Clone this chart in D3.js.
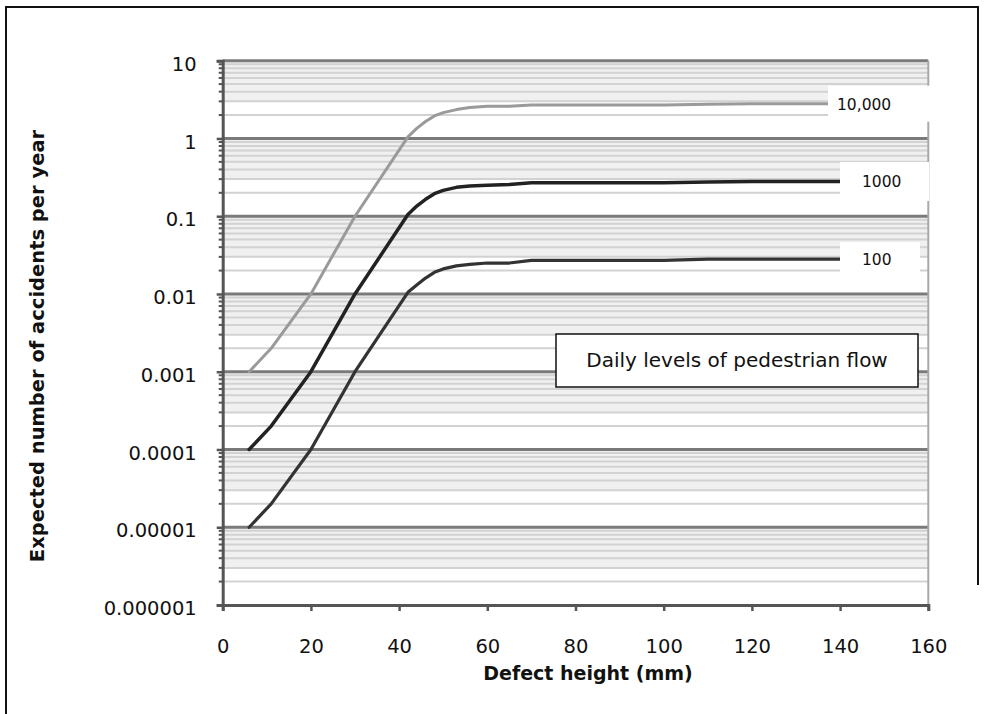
<!DOCTYPE html>
<html><head><meta charset="utf-8">
<script src="https://cdn.jsdelivr.net/npm/d3@7/dist/d3.min.js"></script>
<style>
body{margin:0;background:#fff}
svg{display:block}
text{font-family:"DejaVu Sans",sans-serif;fill:#111}
</style>
</head><body>
<svg id="c" width="984" height="714"></svg>
<script>
// ---- data ----
const defectHeight = [6, 11, 20, 30, 42, 44, 46, 48, 50, 53, 56, 60, 65, 70, 80, 90, 100, 110, 120, 130, 140];
const flow100   = [1e-5, 2e-5, 1e-4, 1e-3, 0.0105, 0.013, 0.016, 0.019, 0.021, 0.023, 0.024, 0.025, 0.025, 0.027, 0.027, 0.027, 0.027, 0.028, 0.028, 0.028, 0.028];
const flow1000  = [1e-4, 2e-4, 1e-3, 0.01, 0.105, 0.135, 0.165, 0.195, 0.215, 0.235, 0.245, 0.25, 0.255, 0.27, 0.27, 0.27, 0.27, 0.275, 0.28, 0.28, 0.28];
const flow10000 = [1e-3, 2e-3, 0.01, 0.1, 1.05, 1.35, 1.65, 1.95, 2.15, 2.35, 2.5, 2.6, 2.6, 2.7, 2.7, 2.7, 2.7, 2.75, 2.8, 2.8, 2.8];
const seriesNames = ["10,000", "1000", "100"];
const xTickValues = [0, 20, 40, 60, 80, 100, 120, 140, 160];
const yTickValues = [1e-6, 1e-5, 1e-4, 1e-3, 1e-2, 1e-1, 1, 10];
const yTickLabels = ["0.000001", "0.00001", "0.0001", "0.001", "0.01", "0.1", "1", "10"];
const xTitle = "Defect height (mm)";
const yTitle = "Expected number of accidents per year";
const legendTitle = "Daily levels of pedestrian flow";

// ---- layout ----
const svg = d3.select("#c");
const X0 = 222.7, X1 = 928.3, Y0 = 605, Y1 = 60.7;
const x = d3.scaleLinear().domain([0, 160]).range([X0, X1]);
const y = d3.scaleLog().domain([1e-6, 10]).range([Y0, Y1]);

// outer frame (left, top, right part)
svg.append("path").attr("d", "M6,720 L6,7 L978,7 L978,585")
  .attr("fill", "none").attr("stroke", "#111").attr("stroke-width", 2);

const plot = svg.append("g");
// light bands
for (let k = -6; k <= 0; k++) {
  plot.append("rect").attr("x", X0).attr("width", X1 - X0)
    .attr("y", y(Math.pow(10, k + 1))).attr("height", y(3 * Math.pow(10, k)) - y(Math.pow(10, k + 1)))
    .attr("fill", "#f0f0f0");
}
// minor gridlines
const minorVals = [];
for (let k = -6; k <= 0; k++) for (let m = 2; m <= 9; m++) minorVals.push(m * Math.pow(10, k));
plot.selectAll(".minor").data(minorVals).join("line")
  .attr("x1", X0).attr("x2", X1).attr("y1", d => y(d)).attr("y2", d => y(d))
  .attr("stroke", "#d2d2d2").attr("stroke-width", 2);
// major gridlines
plot.selectAll(".major").data(yTickValues.slice(1)).join("line")
  .attr("x1", X0).attr("x2", X1).attr("y1", d => y(d)).attr("y2", d => y(d))
  .attr("stroke", "#7a7a7a").attr("stroke-width", 3);
// right border of plot
plot.append("line").attr("x1", X1).attr("x2", X1).attr("y1", Y1).attr("y2", Y0)
  .attr("stroke", "#a8a8a8").attr("stroke-width", 2);

// axes
const yAxis = d3.axisLeft(y).tickValues(yTickValues).tickFormat((d, i) => yTickLabels[i]).tickSize(6).tickPadding(20);
const gy = svg.append("g").attr("transform", `translate(${X0},0)`).call(yAxis);
gy.select(".domain").attr("stroke", "#555").attr("stroke-width", 3);
gy.selectAll(".tick line").attr("stroke", "#555").attr("stroke-width", 2.5);
gy.selectAll(".tick text").attr("font-size", 19.5).attr("font-family", "DejaVu Sans").attr("fill", "#111").attr("dy", "0.5em");
gy.selectAll(".minortick").data(minorVals).join("line")
  .attr("x1", -4).attr("x2", 0).attr("y1", d => y(d)).attr("y2", d => y(d))
  .attr("stroke", "#555").attr("stroke-width", 2);

const xAxis = d3.axisBottom(x).tickValues(xTickValues).tickSize(6).tickPadding(28);
const gx = svg.append("g").attr("transform", `translate(0,${Y0})`).call(xAxis);
gx.select(".domain").attr("stroke", "#555").attr("stroke-width", 3);
gx.selectAll(".tick line").attr("stroke", "#555").attr("stroke-width", 2.5);
gx.selectAll(".tick text").attr("font-size", 19.5).attr("font-family", "DejaVu Sans").attr("fill", "#111");

// titles
svg.append("text").attr("x", 588).attr("y", 680).attr("text-anchor", "middle")
  .attr("font-size", 19).attr("font-weight", "bold").text(xTitle);
svg.append("text").attr("transform", "translate(44,346) rotate(-90)").attr("text-anchor", "middle")
  .attr("font-size", 19.5).attr("font-weight", "bold").text(yTitle);

// series lines
const series = [
  {name: seriesNames[0], vals: flow10000, color: "#9a9a9a", w: 3},
  {name: seriesNames[1], vals: flow1000, color: "#222", w: 3.5},
  {name: seriesNames[2], vals: flow100, color: "#333", w: 3.2}
];
const line = d3.line().x(d => x(d[0])).y(d => y(d[1])).curve(d3.curveLinear);
series.forEach(s => {
  svg.append("path").datum(defectHeight.map((h, i) => [h, s.vals[i]]))
    .attr("d", line).attr("fill", "none").attr("stroke", s.color)
    .attr("stroke-width", s.w).attr("stroke-linecap", "round").attr("stroke-linejoin", "round");
});

// series labels
const lblBoxes = [
  {x: 828, w: 102, h: 36, tx: 837},
  {x: 840, w: 89, h: 39, tx: 862},
  {x: 840, w: 80, h: 34, tx: 862}
];
series.forEach((s, i) => {
  const yEnd = y(s.vals[s.vals.length - 1]);
  const b = lblBoxes[i];
  svg.append("rect").attr("x", b.x).attr("y", yEnd - b.h / 2).attr("width", b.w).attr("height", b.h).attr("fill", "#fff");
  svg.append("text").attr("x", b.tx).attr("y", yEnd + 6).attr("font-size", 15.5).text(s.name);
});

// legend title box
svg.append("rect").attr("x", 556).attr("y", 334).attr("width", 362).attr("height", 53)
  .attr("fill", "#fff").attr("stroke", "#111").attr("stroke-width", 1.5);
svg.append("text").attr("x", 737).attr("y", 367).attr("text-anchor", "middle")
  .attr("font-size", 20).text(legendTitle);
</script>
</body></html>
